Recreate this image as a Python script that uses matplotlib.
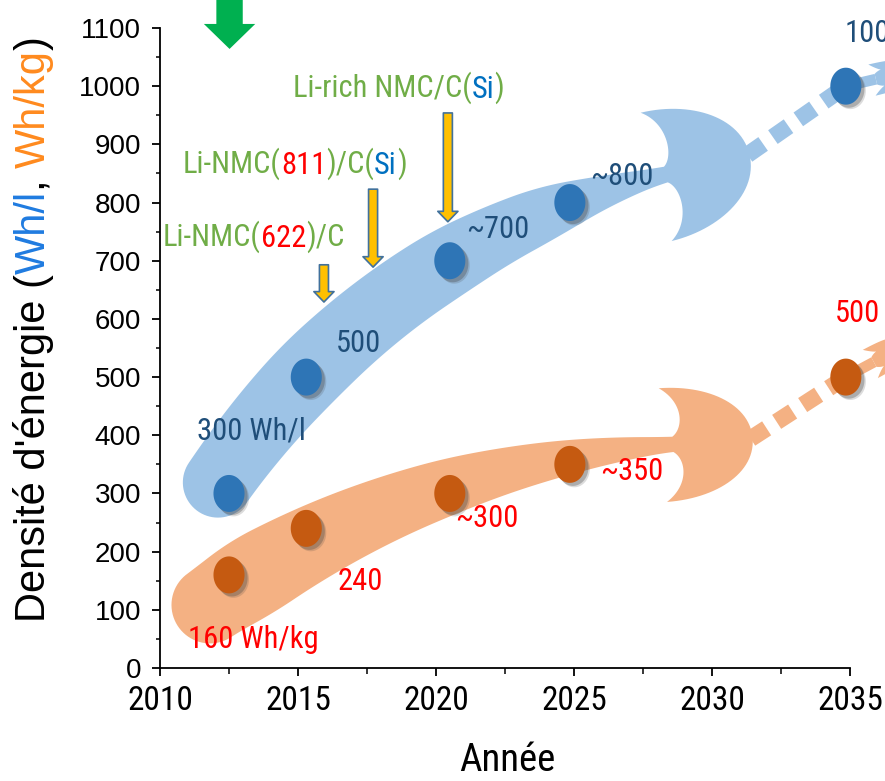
import numpy as np
import matplotlib
matplotlib.use("Agg")
import matplotlib.pyplot as plt
from matplotlib import font_manager as fm
from matplotlib.patches import Polygon, FancyArrowPatch, ArrowStyle
from matplotlib.path import Path
import matplotlib.patheffects as pe

# ---------------- data ----------------
years = [2012.5, 2015.3, 2020.5, 2024.85, 2034.85]
wh_per_l = [300, 500, 700, 800, 1000]
wh_per_kg = [160, 240, 300, 350, 500]
vol_labels = ["300 Wh/l", "500", "~700", "~800", "1000"]
grav_labels = ["160 Wh/kg", "240", "~300", "~350", "500"]
x_ticks = [2010, 2015, 2020, 2025, 2030, 2035]
y_ticks = list(range(0, 1101, 100))

# chemistry call-outs: (pieces, anchor year, anchor value)
chem_notes = [
    ([("Li-rich NMC/C(", "#70AD47"), ("Si", "#0070C0"), (")", "#70AD47")], 2014.82, 981),
    ([("Li-NMC(", "#70AD47"), ("811", "#FF0000"), (")/C(", "#70AD47"),
      ("Si", "#0070C0"), (")", "#70AD47")], 2010.83, 852),
    ([("Li-NMC(", "#70AD47"), ("622", "#FF0000"), (")/C", "#70AD47")], 2010.11, 725),
]
# pointer arrows (x, from, to)
pointer_x = [2015.94, 2017.72, 2020.43]
pointer_top = [693, 823, 954]
pointer_tip = [629, 689, 767]

# ---------------- fonts ----------------
names = {f.name for f in fm.fontManager.ttflist}
NARROW = next((n for n in ["Liberation Sans Narrow", "Roboto Condensed",
                           "Open Sans Condensed", "DejaVu Sans Condensed"]
               if n in names), "Liberation Sans")
plt.rcParams["font.family"] = ["Liberation Sans", "DejaVu Sans"]
plt.rcParams["lines.scale_dashes"] = False

W, H = 885, 781
fig = plt.figure(figsize=(W / 100, H / 100), dpi=100)
ax = fig.add_axes([160 / W, 113 / H, 690 / W, 640 / H])
ax.set_xlim(2010, 2035)
ax.set_ylim(0, 1100)

for s in ("top", "right"):
    ax.spines[s].set_visible(False)
for s in ("left", "bottom"):
    ax.spines[s].set_linewidth(1.3)

ax.set_xticks(x_ticks)
ax.set_xticks(np.array(x_ticks[:-1]) + 2.5, minor=True)
ax.set_yticks(y_ticks)
ax.set_yticks(np.array(y_ticks[:-1]) + 50, minor=True)
ax.tick_params(axis="y", which="major", direction="out", length=5.5, width=1.3,
               labelsize=20, pad=8)
ax.tick_params(axis="y", which="minor", direction="out", length=3, width=1.1)
ax.tick_params(axis="x", which="major", direction="out", length=6, width=1.3,
               labelsize=24, pad=6)
ax.tick_params(axis="x", which="minor", direction="out", length=4, width=1.1)
for lab in ax.get_xticklabels():
    lab.set_fontfamily(NARROW)

ax.set_xlabel("Année", fontsize=28, family=NARROW)
ax.xaxis.set_label_coords(0.503, -0.161)
ax.xaxis.label.set_va("baseline")

# ---------------- geometry helpers (display pixels) ----------------
to_px = ax.transData.transform
to_data = ax.transData.inverted().transform


def cubic(p0, p1, p2, p3, n=30):
    t = np.linspace(0, 1, n)[:, None]
    p0, p1, p2, p3 = map(np.asarray, (p0, p1, p2, p3))
    return ((1 - t) ** 3 * p0 + 3 * (1 - t) ** 2 * t * p1
            + 3 * (1 - t) * t ** 2 * p2 + t ** 3 * p3)


def smooth_centerline(S, E, interior, n=300):
    """Quadratic Bezier from S to E whose control point best fits the interior points."""
    pts = np.vstack([S, interior, E])
    d = np.r_[0, np.cumsum(np.linalg.norm(np.diff(pts, axis=0), axis=1))]
    ti = (d / d[-1])[1:-1]
    w = 2 * ti * (1 - ti)
    rhs = interior - ((1 - ti) ** 2)[:, None] * S - (ti ** 2)[:, None] * E
    C = (w[:, None] * rhs).sum(0) / (w ** 2).sum()
    t = np.linspace(0, 1, n)[:, None]
    return (1 - t) ** 2 * S + 2 * t * (1 - t) * C + t ** 2 * E, t[:, 0]


def head_shape(Hh, L, w, back=-10):
    return np.vstack([
        cubic((0, w), (12, w + 8), (14, Hh - 16), (back, Hh)),
        cubic((back, Hh), (40, Hh), (L, Hh * 0.6), (L, 0)),
        cubic((L, 0), (L, -Hh * 0.6), (40, -Hh), (back, -Hh)),
        cubic((back, -Hh), (14, -Hh + 16), (12, -w - 8), (0, -w)),
    ])


def place(local, origin, u):
    v = np.array([-u[1], u[0]])
    return origin + local[:, :1] * u + local[:, 1:] * v


def trend_band(vals, color, start_off, end_off, width_t, width_v,
               head_h, head_l, tail_off, dash_w):
    pts = to_px(np.column_stack([years, vals]))
    S = pts[0] + np.array(start_off)
    E = pts[3] + np.array(end_off)
    C, t = smooth_centerline(S, E, pts[1:4])
    hw = np.interp(t, width_t, width_v)
    hw = np.convolve(np.pad(hw, 15, mode="edge"), np.ones(31) / 31, mode="valid")
    T = np.gradient(C, axis=0)
    T /= np.linalg.norm(T, axis=1)[:, None]
    N = np.column_stack([-T[:, 1], T[:, 0]])
    upper = C + N * hw[:, None]
    lower = C - N * hw[:, None]
    uE = T[-1]
    head = place(head_shape(head_h, head_l, hw[-1]), E, uE)
    th0 = np.arctan2(T[0, 1], T[0, 0])
    phi = np.linspace(th0 + 1.5 * np.pi, th0 + 0.5 * np.pi, 40)
    cap = S + hw[0] * np.column_stack([np.cos(phi), np.sin(phi)])
    outline = np.vstack([upper[:-1], head, lower[::-1][1:], cap])
    ax.add_patch(Polygon(to_data(outline), closed=True, fc=color, ec="none",
                         zorder=1, clip_on=False))

    # dashed continuation to the projected point and beyond
    tip = E + uE * (head_l - 2)
    seg = to_data(np.vstack([tip, pts[4]]))
    ax.plot(seg[:, 0], seg[:, 1], color=color, lw=dash_w,
            linestyle=(0, (13.7, 8.6)), dash_capstyle="butt",
            solid_capstyle="butt", zorder=1, clip_on=False)
    tail_end = pts[4] + np.array(tail_off)
    seg2 = to_data(np.vstack([pts[4], tail_end]))
    ax.plot(seg2[:, 0], seg2[:, 1], color=color, lw=dash_w * 0.65,
            solid_capstyle="butt", zorder=1, clip_on=False)
    ut = (tail_end - pts[4]) / np.linalg.norm(tail_end - pts[4])
    small = place(head_shape(16, 26, dash_w * 0.65 / 0.72 / 2, back=-4), tail_end, ut)
    ax.add_patch(Polygon(to_data(small), closed=True, fc=color, ec="none",
                         zorder=1, clip_on=False))


trend_band(wh_per_l, "#9DC3E6", start_off=(-11, 11), end_off=(96, 28),
           width_t=[0, 0.25, 0.58, 0.78, 0.9, 1.0],
           width_v=[35, 38, 35, 27, 15, 7],
           head_h=66, head_l=86, tail_off=(30, 7), dash_w=12)
trend_band(wh_per_kg, "#F4B183", start_off=(-19, -30), end_off=(103, 20),
           width_t=[0, 0.1, 0.3, 0.55, 0.78, 0.9, 1.0],
           width_v=[38, 42, 36, 28, 18, 12, 7],
           head_h=57, head_l=80, tail_off=(28, 15), dash_w=12)

# ---------------- markers ----------------
theta = np.linspace(0, 2 * np.pi, 72)
ellipse = Path(np.column_stack([0.84 * np.cos(theta), np.sin(theta)]), closed=True)
shadow = [pe.SimplePatchShadow(offset=(3.2, -3.2), shadow_rgbFace="#404040", alpha=0.18),
          pe.SimplePatchShadow(offset=(2.2, -2.2), shadow_rgbFace="#404040", alpha=0.3),
          pe.Normal()]
ax.scatter(years, wh_per_l, s=709, marker=ellipse, c="#2E75B6", linewidths=0,
           zorder=3, clip_on=False, path_effects=shadow)
ax.scatter(years, wh_per_kg, s=709, marker=ellipse, c="#C55A11", linewidths=0,
           zorder=3, clip_on=False, path_effects=shadow)

# ---------------- value labels ----------------
vol_offsets = [(-23, 38.5), (21, 18), (11.5, 16.5), (14.4, 12.6), (-0.7, 31.7)]
grav_offsets = [(-29.5, -52.6), (22.3, -44.6), (3.6, -24), (21.6, -11.2), (-8, 39.6)]
for x, y, t, off in zip(years, wh_per_l, vol_labels, vol_offsets):
    ax.annotate(t, xy=(x, y), xytext=off, textcoords="offset points", ha="left",
                va="baseline", fontsize=22, family=NARROW, color="#1F4E79",
                zorder=4, annotation_clip=False)
for x, y, t, off in zip(years, wh_per_kg, grav_labels, grav_offsets):
    ax.annotate(t, xy=(x, y), xytext=off, textcoords="offset points", ha="left",
                va="baseline", fontsize=22, family=NARROW, color="#FF0000",
                zorder=4, annotation_clip=False)


# ---------------- multi-coloured text ----------------
def rainbow(pieces, xy, xycoords="data", rotation=0, **kw):
    if rotation:
        first = dict(ha="center", va="bottom")
        nxt_xy, nxt = (0.5, 1), dict(ha="center", va="bottom")
    else:
        first = dict(ha="left", va="baseline")
        nxt_xy, nxt = (1, 0), dict(ha="left", va="bottom")
    s, c = pieces[0]
    t = ax.annotate(s, xy=xy, xycoords=xycoords, color=c, rotation=rotation,
                    annotation_clip=False, **first, **kw)
    for s, c in pieces[1:]:
        t = ax.annotate(s, xy=nxt_xy, xycoords=t, color=c, rotation=rotation,
                        annotation_clip=False, **nxt, **kw)


for pieces, x, y in chem_notes:
    rainbow(pieces, (x, y), fontsize=22, family=NARROW, zorder=4)

rainbow([("Densité d'énergie (", "black"), ("Wh/l", "#1F7BE0"), (", ", "black"),
         ("Wh/kg", "#FF8A1E"), (")", "black")],
        (34, 159), xycoords="figure pixels", rotation=90, fontsize=30,
        family="Liberation Sans")

# ---------------- arrows ----------------
yellow = ArrowStyle("Simple", head_length=0.75, head_width=1.45, tail_width=0.65)
for x, y0, y1 in zip(pointer_x, pointer_top, pointer_tip):
    ax.add_patch(FancyArrowPatch((x, y0), (x, y1), arrowstyle=yellow,
                                 mutation_scale=10, fc="#FFC000", ec="#41719C",
                                 lw=1.2, shrinkA=0, shrinkB=0, zorder=3))
green = ArrowStyle("Simple", head_length=1.8, head_width=3.7, tail_width=1.9)
ax.add_patch(FancyArrowPatch((2012.52, 1160), (2012.52, 1064), arrowstyle=green,
                             mutation_scale=10, fc="#00B050", ec="none",
                             shrinkA=0, shrinkB=0, zorder=3, clip_on=False))

fig.savefig("out.png", dpi=100)
